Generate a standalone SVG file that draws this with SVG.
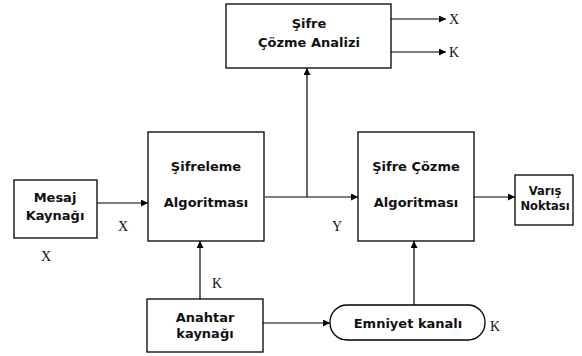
<svg xmlns="http://www.w3.org/2000/svg" width="582" height="356" viewBox="0 0 582 356">
<style>
.box{fill:#fff;stroke:#000;stroke-width:1.3}
.t{font-family:"DejaVu Sans",Verdana,sans-serif;font-weight:bold;font-size:13px;fill:#111;text-anchor:middle}
.sm{font-size:11.5px}
.s{font-family:"Liberation Serif","Times New Roman",serif;font-size:14px;fill:#111}
.c{fill:none;stroke:#000;stroke-width:1.2}
</style>
<defs>
<marker id="ah" viewBox="0 0 10 10" refX="10" refY="5" markerWidth="7" markerHeight="7" markerUnits="userSpaceOnUse" orient="auto">
<path d="M0,0 L10,5 L0,10 z" fill="#000"/>
</marker>
</defs>
<rect width="582" height="356" fill="#fff"/>
<g id="connectors">
<path class="c" d="M391,19 H446" marker-end="url(#ah)"/>
<path class="c" d="M391,52 H446" marker-end="url(#ah)"/>
<path class="c" d="M97,203 H148" marker-end="url(#ah)"/>
<path class="c" d="M265,197 H358" marker-end="url(#ah)"/>
<path class="c" d="M307,197 V68" marker-end="url(#ah)"/>
<path class="c" d="M474,197 H515" marker-end="url(#ah)"/>
<path class="c" d="M200,299 V241" marker-end="url(#ah)"/>
<path class="c" d="M414,305 V241" marker-end="url(#ah)"/>
<path class="c" d="M263,323 H330" marker-end="url(#ah)"/>
</g>
<g id="analiz">
<rect class="box" x="226" y="4" width="165" height="64"/>
<text class="t" x="309" y="28">Şifre</text>
<text class="t" x="309" y="47">Çözme Analizi</text>
</g>
<g id="mesaj">
<rect class="box" x="14" y="180" width="83" height="58"/>
<text class="t" x="55" y="202">Mesaj</text>
<text class="t" x="55" y="220">Kaynağı</text>
</g>
<g id="sifreleme">
<rect class="box" x="148" y="132" width="116" height="109"/>
<text class="t" x="206" y="171">Şifreleme</text>
<text class="t" x="206" y="207">Algoritması</text>
</g>
<g id="cozme">
<rect class="box" x="358" y="132" width="116" height="109"/>
<text class="t" x="416" y="171">Şifre Çözme</text>
<text class="t" x="416" y="207">Algoritması</text>
</g>
<g id="varis">
<rect class="box" x="515" y="175" width="58" height="50"/>
<text class="t sm" x="545" y="195">Varış</text>
<text class="t sm" x="545" y="210">Noktası</text>
</g>
<g id="anahtar">
<rect class="box" x="147" y="299" width="116" height="53"/>
<text class="t" x="205" y="322">Anahtar</text>
<text class="t" x="205" y="338">kaynağı</text>
</g>
<g id="emniyet">
<rect class="box" x="330" y="305" width="155" height="35" rx="17" ry="17"/>
<text class="t" x="408" y="328">Emniyet kanalı</text>
</g>
<g id="labels">
<text class="s" x="449" y="24">X</text>
<text class="s" x="449" y="57">K</text>
<text class="s" x="118" y="231">X</text>
<text class="s" x="41" y="261">X</text>
<text class="s" x="332" y="231">Y</text>
<text class="s" x="212" y="288">K</text>
<text class="s" x="490" y="331">K</text>
</g>
</svg>
